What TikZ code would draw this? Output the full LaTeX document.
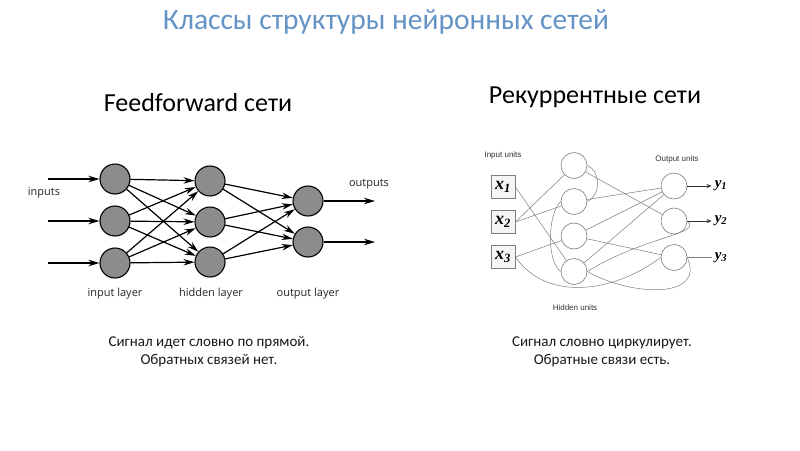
\documentclass[tikz,border=0pt]{standalone}
\usepackage{fontspec}
\setmainfont{Carlito}
\newfontfamily\labelfont{Open Sans}
\newfontfamily\arialfont{Liberation Sans}
\newfontfamily\mathxfont{Liberation Serif}
\usetikzlibrary{arrows.meta, positioning}
\definecolor{titleblue}{RGB}{100,148,198}
\definecolor{nodegray}{RGB}{140,140,140}
\definecolor{linegray}{RGB}{125,125,125}
\tikzset{
  ffnode/.style={circle, draw=black, line width=1.1pt, fill=nodegray, minimum size=30pt, inner sep=0pt},
  ffarrow/.style={line width=1.2pt, -{Stealth[length=11pt,width=6.5pt]}},
  fflabel/.style={font=\labelfont\fontsize{11}{13}\selectfont, text=black!85},
  rnode/.style={circle, draw=linegray, line width=0.6pt, minimum size=26pt, inner sep=0pt},
  rbox/.style={draw=linegray, line width=0.8pt, fill=gray!8, minimum width=24pt, minimum height=23pt, inner sep=0pt, font=\mathxfont\bfseries\itshape\fontsize{18}{18}\selectfont},
  rline/.style={draw=linegray, line width=0.5pt},
  rlabel/.style={font=\arialfont\fontsize{8}{9}\selectfont, text=black!80},
  ylabel/.style={font=\mathxfont\bfseries\itshape\fontsize{15}{15}\selectfont, inner sep=1pt},
  caption/.style={font=\fontsize{15}{18}\selectfont, align=center, text=black!90}
}
\begin{document}
\begin{tikzpicture}[x=1pt, y=-1pt]
\useasboundingbox[fill=white] (0,0) rectangle (800,450);
% Заголовки
\node[text=titleblue, font=\fontsize{29.5}{32}\selectfont] (title) at (386,22) {Классы структуры нейронных сетей};
\node[font=\fontsize{26}{28}\selectfont] (fftitle) at (198,103) {Feedforward сети};
\node[font=\fontsize{26}{28}\selectfont] (rtitle) at (595,97) {Рекуррентные сети};
% Сеть 1: feedforward
\foreach \i/\y in {1/179,2/221,3/263} {
  \coordinate (in\i) at (48,\y);
  \node[ffnode] (I\i) at (115,\y) {};
  \draw[ffarrow] (in\i) -- (I\i);
}
\foreach \j/\y in {1/181,2/222,3/262} {
  \node[ffnode] (H\j) at (210,\y) {};
}
\foreach \k/\y in {1/201,2/242} {
  \node[ffnode] (O\k) at (308,\y) {};
  \coordinate (out\k) at (375,\y);
  \draw[ffarrow] (O\k) -- (out\k);
}
\foreach \i in {1,2,3} {
  \foreach \j in {1,2,3} {
    \draw[ffarrow] (I\i) -- (H\j);
  }
}
\foreach \j in {1,2,3} {
  \foreach \k in {1,2} {
    \draw[ffarrow] (H\j) -- (O\k);
  }
}
\node[fflabel] (inputs) at (44,193) {inputs};
\node[fflabel] (outputs) at (369,184) {outputs};
\node[fflabel] (inlayer) at (115,294) {input layer};
\node[fflabel] (hidlayer) at (211,294) {hidden layer};
\node[fflabel] (outlayer) at (308,294) {output layer};
% Сеть 2: рекуррентная
\foreach \i/\y in {1/187,2/222,3/257} {
  \node[rbox] (rx\i) at (503,\y) {x\textsubscript{\i}};
}
\foreach \j/\y in {1/165.5,2/201.5,3/236,4/271.5} {
  \node[rnode] (rh\j) at (574,\y) {};
}
\foreach \k/\y in {1/186,2/221,3/257.5} {
  \node[rnode] (ro\k) at (674,\y) {};
  \node[ylabel] (ry\k) at (721,\y) {y\textsubscript{\k}};
}
\draw[rline] (rx1.east) -- (rh4);
\draw[rline] (rx2.east) -- (rh1);
\draw[rline] (rx2.east) -- (rh2);
\draw[rline] (rx3.east) -- (rh3);
\draw[rline] (rx3.east) .. controls (545,300) and (610,295) .. (ro3.west);
\draw[rline] (rh1.east) .. controls (600,170) and (602,195) .. (rh2.east);
\draw[rline] (rh2.west) .. controls (547,215) and (547,262) .. (rh4.west);
\draw[rline] (rh1) -- (ro2);
\draw[rline] (rh2) -- (ro1);
\draw[rline] (rh3) -- (ro1);
\draw[rline] (rh3) -- (ro3);
\draw[rline] (rh4) -- (ro1);
\draw[rline] (ro2.east) .. controls (703,234) and (645,236) .. (rh4.east);
\draw[rline] (rh4.east) .. controls (630,296) and (706,300) .. (ro3.east);
\draw[rline, draw=black!80, line width=0.7pt, shorten >=2pt, -{Stealth[length=5pt,width=4pt]}] (ro1) -- (ry1);
\draw[rline, draw=black!80, line width=0.7pt, shorten >=2pt, -{Stealth[length=5pt,width=4pt]}] (ro2) -- (ry2);
\draw[rline, line width=0.7pt, shorten >=2pt] (ro3) -- (ry3);
\node[rlabel] (inunits) at (503,155) {Input units};
\node[rlabel] (outunits) at (677,159) {Output units};
\node[rlabel] (hidunits) at (575,308) {Hidden units};
% Подписи
\node[caption] (ffcap) at (209,352) {Сигнал идет словно по прямой.\\Обратных связей нет.};
\node[caption] (rcap) at (602,352) {Сигнал словно циркулирует.\\Обратные связи есть.};
\end{tikzpicture}
\end{document}
